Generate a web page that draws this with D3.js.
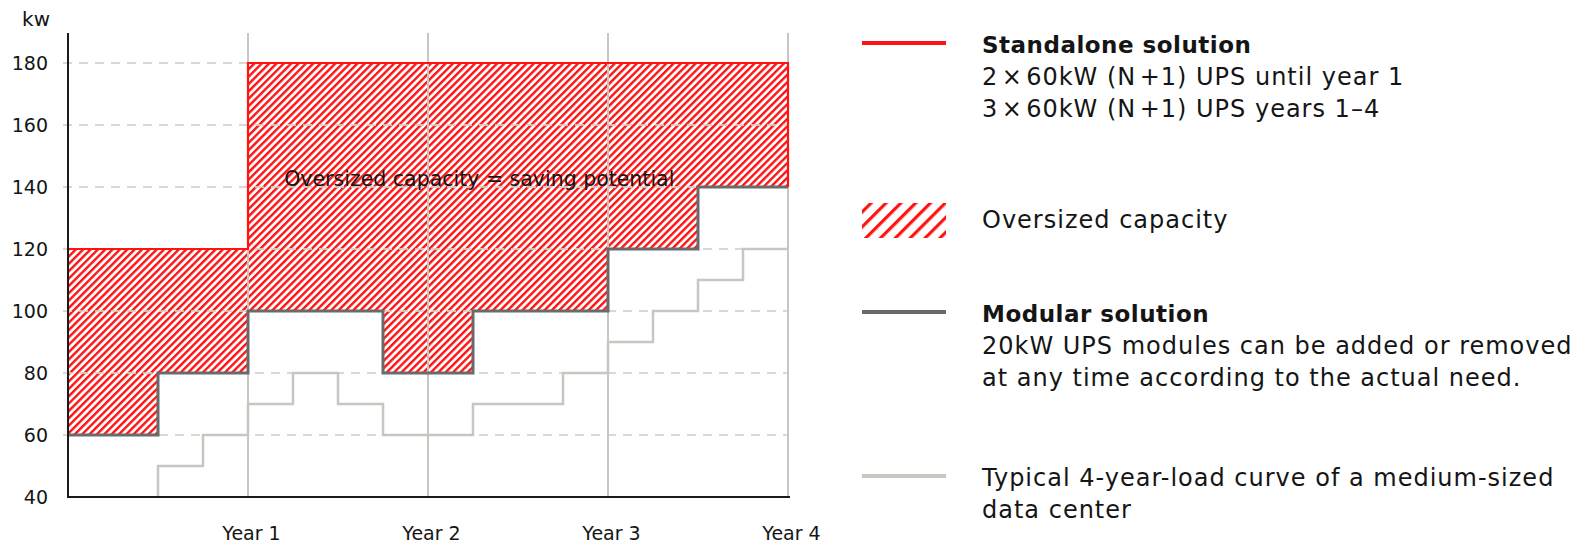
<!DOCTYPE html>
<html>
<head>
<meta charset="utf-8">
<script src="https://cdn.jsdelivr.net/npm/d3@7"></script>
<style>
  body { margin: 0; background: #fff; }
  svg { display: block; }
  .tick-label { font-family: "DejaVu Sans", sans-serif; font-size: 19px; fill: #151515; }
  .legend-text { font-family: "DejaVu Sans", sans-serif; font-size: 24px; fill: #151515; letter-spacing: 1px; }
  .legend-title { font-size: 23px; font-weight: bold; letter-spacing: 0.5px; }
</style>
</head>
<body>
<svg id="chart" width="1587" height="546"></svg>
<script>
// values (time in years, power in kW)
var years = [1, 2, 3, 4];
var yearLabels = ["Year 1", "Year 2", "Year 3", "Year 4"];
var kwTicks = [40, 60, 80, 100, 120, 140, 160, 180];

// step series: each point starts a level that lasts until the next point
var standaloneSteps = [[0, 120], [1, 180], [4, 180]];
var modularSteps = [[0, 60], [0.5, 80], [1, 100], [1.75, 80], [2.25, 100], [3, 120], [3.5, 140], [4, 140]];
var loadSteps = [[0.5, 40], [0.5, 50], [0.75, 60], [1, 70], [1.25, 80], [1.5, 70], [1.75, 60],
                 [2.25, 70], [2.75, 80], [3, 90], [3.25, 100], [3.5, 110], [3.75, 120], [4, 120]];

var legendItems = [
    { kind: "red", title: "Standalone solution", lines: ["2\u200a\u00d7\u200a60kW (N\u200a+1) UPS until year 1", "3\u200a\u00d7\u200a60kW (N\u200a+1) UPS years 1\u20134"] },
    { kind: "hatch", title: null, lines: ["Oversized capacity"] },
    { kind: "modular", title: "Modular solution", lines: ["20kW UPS modules can be added or removed", "at any time according to the actual need."] },
    { kind: "load", title: null, lines: ["Typical 4-year-load curve of a medium-sized", "data center"] }
];

var RED = "#ff1212", DARK = "#6a6a6a", LIGHT = "#c9c5c1", GRID = "#d5d1cd";

var svg = d3.select("#chart");
svg.append("rect").attr("width", 1587).attr("height", 546).attr("fill", "#fff");

var x = d3.scaleLinear().domain([0, 4]).range([68, 788]);
var y = d3.scaleLinear().domain([40, 180]).range([497, 63]);
var plotTop = 33;

// hatch patterns
var defs = svg.append("defs");
defs.append("pattern")
    .attr("id", "hatch")
    .attr("patternUnits", "userSpaceOnUse")
    .attr("width", 5.2).attr("height", 5)
    .attr("patternTransform", "rotate(45)")
  .append("rect")
    .attr("width", 2.4).attr("height", 5)
    .attr("fill", RED);
defs.append("pattern")
    .attr("id", "hatchLegend")
    .attr("patternUnits", "userSpaceOnUse")
    .attr("width", 10.5).attr("height", 10)
    .attr("patternTransform", "translate(864,0) rotate(45)")
  .append("rect")
    .attr("width", 3.2).attr("height", 10)
    .attr("fill", RED);

// step value helper
function levelAt(steps, t) {
    var v = steps[0][1];
    steps.forEach(function(s) { if (s[0] <= t) v = s[1]; });
    return v;
}

// oversized area between standalone and modular
var breaks = d3.sort(Array.from(new Set(standaloneSteps.concat(modularSteps).map(function(d) { return d[0]; }))));
var gapData = breaks.map(function(t) {
    return { t: t, top: levelAt(standaloneSteps, t), bottom: levelAt(modularSteps, t) };
});
svg.append("path")
    .datum(gapData)
    .attr("fill", "url(#hatch)")
    .attr("d", d3.area()
        .curve(d3.curveStepAfter)
        .x(function(d) { return x(d.t); })
        .y0(function(d) { return y(d.bottom); })
        .y1(function(d) { return y(d.top); }));

// grid
svg.append("g")
    .selectAll("line")
    .data(kwTicks.filter(function(k) { return k > 40; }))
    .join("line")
    .attr("x1", x(0) - 5).attr("x2", x(4))
    .attr("y1", function(d) { return y(d); }).attr("y2", function(d) { return y(d); })
    .attr("stroke", GRID).attr("stroke-width", 2)
    .attr("stroke-dasharray", "9,7")
    .attr("opacity", 0.85);

svg.append("g")
    .selectAll("line")
    .data(years)
    .join("line")
    .attr("x1", function(d) { return x(d); }).attr("x2", function(d) { return x(d); })
    .attr("y1", plotTop).attr("y2", y(40))
    .attr("stroke", LIGHT).attr("stroke-width", 2);

var stepLine = d3.line()
    .curve(d3.curveStepAfter)
    .x(function(d) { return x(d[0]); })
    .y(function(d) { return y(d[1]); });

svg.append("path")
    .datum(loadSteps)
    .attr("fill", "none").attr("stroke", LIGHT).attr("stroke-width", 2.5)
    .attr("d", stepLine);

svg.append("path")
    .datum(modularSteps)
    .attr("fill", "none").attr("stroke", DARK).attr("stroke-width", 3)
    .attr("d", stepLine);

// standalone outline, closed down to the modular level at year 4
svg.append("path")
    .datum(standaloneSteps.concat([[4, levelAt(modularSteps, 4)]]))
    .attr("fill", "none").attr("stroke", RED).attr("stroke-width", 2.2)
    .attr("d", stepLine);

svg.append("text")
    .attr("class", "tick-label")
    .attr("x", x(2.285)).attr("y", y(140) - 1)
    .attr("text-anchor", "middle")
    .style("font-size", "20.5px")
    .text("Oversized capacity = saving potential");

// axes
var yAxis = svg.append("g")
    .attr("transform", "translate(" + x(0) + ",0)")
    .call(d3.axisLeft(y).tickValues(kwTicks).tickSize(0).tickPadding(20));
yAxis.select(".domain").remove();
yAxis.selectAll("text").attr("class", "tick-label").attr("fill", null).attr("font-family", null).attr("font-size", null);

var xAxis = svg.append("g")
    .attr("transform", "translate(3," + y(40) + ")")
    .call(d3.axisBottom(x).tickValues(years).tickFormat(function(d, i) { return yearLabels[i]; }).tickSize(0).tickPadding(30));
xAxis.select(".domain").remove();
xAxis.selectAll("text").attr("class", "tick-label").attr("fill", null).attr("font-family", null).attr("font-size", null);

svg.append("line")
    .attr("x1", x(0)).attr("x2", x(0)).attr("y1", plotTop).attr("y2", y(40) + 1)
    .attr("stroke", "#1a1a1a").attr("stroke-width", 2);
svg.append("line")
    .attr("x1", x(0) - 1).attr("x2", x(4) + 2).attr("y1", y(40)).attr("y2", y(40))
    .attr("stroke", "#1a1a1a").attr("stroke-width", 2);

svg.append("text")
    .attr("class", "tick-label")
    .attr("x", 50).attr("y", 26)
    .attr("text-anchor", "end")
    .style("font-size", "20px")
    .text("kw");

// legend
var legendY = [43, 220, 312, 476];
var legendTextY = [53, 228, 322, 486];
var legend = svg.append("g");
legendItems.forEach(function(item, i) {
    var g = legend.append("g");
    if (item.kind === "hatch") {
        g.append("rect")
            .attr("x", 862).attr("y", legendY[i] - 17)
            .attr("width", 84).attr("height", 35)
            .attr("fill", "url(#hatchLegend)");
    } else {
        g.append("line")
            .attr("x1", 862).attr("x2", 946)
            .attr("y1", legendY[i]).attr("y2", legendY[i])
            .attr("stroke", item.kind === "red" ? RED : item.kind === "modular" ? DARK : LIGHT)
            .attr("stroke-width", 4);
    }
    var rows = (item.title ? [item.title] : []).concat(item.lines);
    g.selectAll("text")
        .data(rows)
        .join("text")
        .attr("class", function(d, j) { return item.title && j === 0 ? "legend-text legend-title" : "legend-text"; })
        .attr("x", 982)
        .attr("y", function(d, j) { return legendTextY[i] + j * 32; })
        .text(function(d) { return d; });
});
</script>
</body>
</html>
